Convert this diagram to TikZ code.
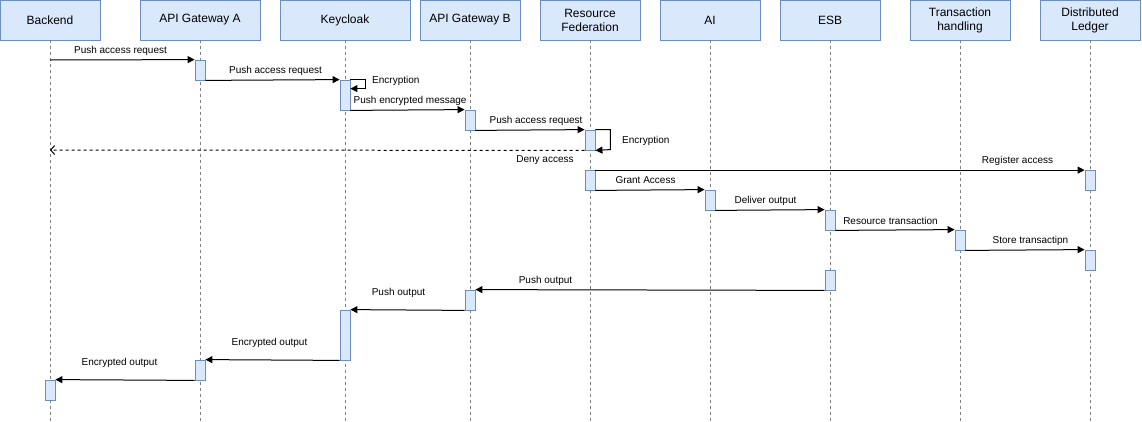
\documentclass[tikz,border=0pt]{standalone}
\usepackage{fontspec}
\setmainfont{Liberation Sans}
\usetikzlibrary{arrows.meta}
\definecolor{boxfill}{HTML}{DAE8FC}
\definecolor{boxline}{HTML}{6C8EBF}
\definecolor{lifecol}{HTML}{808080}
\begin{document}
\begin{tikzpicture}[x=1pt,y=-1pt,
  head/.style={draw=boxline, fill=boxfill, line width=0.8pt, minimum height=40pt, inner sep=0pt, font=\fontsize{12}{14}\selectfont, align=center},
  act/.style={draw=boxline, fill=boxfill, line width=0.8pt, minimum width=10pt, inner sep=0pt},
  life/.style={draw=lifecol, dash pattern=on 3pt off 3pt, line width=0.8pt},
  msg/.style={draw=black, line width=1pt, -{Triangle[length=7pt,width=7pt]}},
  ret/.style={draw=black, line width=1pt, dash pattern=on 3pt off 3pt, -{Straight Barb[length=4pt,width=9pt]}},
  lbl/.style={font=\fontsize{10}{12}\selectfont, inner sep=0pt}]
\useasboundingbox (0,0) rectangle (1142,421);
\fill[white] (0,0) rectangle (1142,421);

% headers
\node[head, minimum width=100pt] (hBack) at (50,20) {Backend};
\node[head, minimum width=120pt] (hApiA) at (200,20) {API Gateway A};
\node[head, minimum width=130pt] (hKc) at (345,20) {Keycloak};
\node[head, minimum width=100pt] (hApiB) at (470,20) {API Gateway B};
\node[head, minimum width=100pt] (hRf) at (590,20) {Resource\\Federation};
\node[head, minimum width=100pt] (hAi) at (710,20) {AI};
\node[head, minimum width=100pt] (hEsb) at (830,20) {ESB};
\node[head, minimum width=100pt] (hTh) at (960,20) {Transaction\\handling};
\node[head, minimum width=100pt] (hDl) at (1090,20) {Distributed\\Ledger};

% lifeline ends
\coordinate (eBack) at (50,421);
\coordinate (eApiA) at (200,421);
\coordinate (eKc) at (345,421);
\coordinate (eApiB) at (470,421);
\coordinate (eRf) at (590,421);
\coordinate (eAi) at (710,421);
\coordinate (eEsb) at (830,421);
\coordinate (eTh) at (960,421);
\coordinate (eDl) at (1090,421);
\foreach \n in {Back,ApiA,Kc,ApiB,Rf,Ai,Esb,Th,Dl}{
  \draw[life] (h\n.south) -- (e\n);
}

% activations
\node[act, minimum height=20pt] (aA1) at (200,70) {};
\node[act, minimum height=30pt] (kc1) at (345,95) {};
\node[act, minimum height=20pt] (aB1) at (470,120) {};
\node[act, minimum height=20pt] (rf1) at (590,140) {};
\node[act, minimum height=20pt] (rf2) at (590,180) {};
\node[act, minimum height=20pt] (dl1) at (1090,180) {};
\node[act, minimum height=20pt] (ai1) at (710,200) {};
\node[act, minimum height=20pt] (esb1) at (830,220) {};
\node[act, minimum height=20pt] (th1) at (960,240) {};
\node[act, minimum height=20pt] (dl2) at (1090,260) {};
\node[act, minimum height=20pt] (esb2) at (830,280) {};
\node[act, minimum height=20pt] (aB2) at (470,300) {};
\node[act, minimum height=50pt] (kc2) at (345,335) {};
\node[act, minimum height=20pt] (aA2) at (200,370) {};
\node[act, minimum height=20pt] (bk1) at (50,390) {};

% messages
\coordinate (m1s) at (50,60);
\draw[msg] (m1s) -- (aA1.north west);
\draw[msg] (aA1.south east) -- (kc1.north west);
\draw[msg] (kc1.north east) -- ++(15,0) -- ++(0,9) -- ++(-15,0);
\draw[msg] (kc1.south east) -- (aB1.north west);
\draw[msg] (aB1.south east) -- (rf1.north west);
\draw[msg] (rf1.north east) -- ++(15,0) -- ++(0,20) -- (rf1.south east);
\coordinate (m7e) at (50,150);
\draw[ret] (rf1.south west) -- (m7e);
\draw[msg] ([yshift=-0.5pt]rf2.north east) -- ([yshift=-0.5pt]dl1.north west);
\draw[msg] (rf2.south east) -- (ai1.north west);
\draw[msg] (ai1.south east) -- (esb1.north west);
\draw[msg] (esb1.south east) -- (th1.north west);
\draw[msg] (th1.south east) -- (dl2.north west);
\draw[msg] (esb2.south west) -- (aB2.north east);
\draw[msg] (aB2.south west) -- (kc2.north east);
\draw[msg] (kc2.south west) -- (aA2.north east);
\draw[msg] (aA2.south west) -- (bk1.north east);

% labels
\node[lbl] (l1) at (120.5,50.5) {Push access request};
\node[lbl] (l2) at (275.5,70.5) {Push access request};
\node[lbl, anchor=west] (l3) at (372,80.5) {Encryption};
\node[lbl, anchor=west] (l4) at (353.5,100.5) {Push encrypted message};
\node[lbl] (l5) at (536,120.5) {Push access request};
\node[lbl, anchor=west] (l6) at (622,140.5) {Encryption};
\node[lbl] (l7) at (545,160.5) {Deny access};
\node[lbl] (l8) at (1017.5,160.5) {Register access};
\node[lbl] (l9) at (645.5,180.5) {Grant Access};
\node[lbl] (l10) at (765.5,200.5) {Deliver output};
\node[lbl] (l11) at (890.5,220.5) {Resource transaction};
\node[lbl] (l12) at (1030.5,240.5) {Store transactipn};
\node[lbl] (l13) at (545.5,280.5) {Push output};
\node[lbl] (l14) at (398.5,292.5) {Push output};
\node[lbl] (l15) at (269.5,342.5) {Encrypted output};
\node[lbl] (l16) at (119.5,362.5) {Encrypted output};
\end{tikzpicture}
\end{document}
